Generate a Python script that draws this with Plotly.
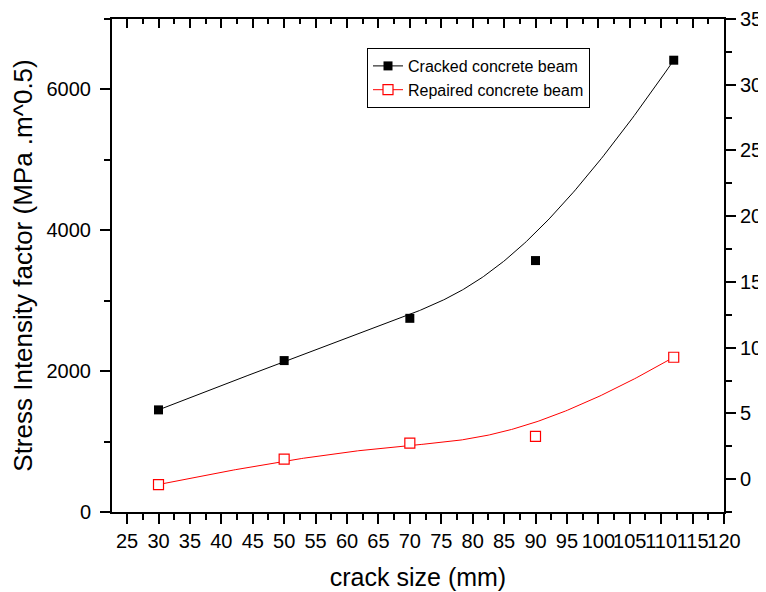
import numpy as np
import plotly.graph_objects as go

crack_size = [30, 50, 70, 90, 112]
cracked = [1450, 2150, 2750, 3570, 6415]
repaired = [390, 751, 978, 1073, 2197]
x_ticks = list(range(25, 121, 5))
y_ticks = [0, 2000, 4000, 6000]
y2_ticks = list(range(0, 36, 5))


def bspline(px, py, n=300, k=3):
    """Clamped uniform B-spline using the data points as control points."""
    P = np.column_stack([px, py]).astype(float)
    m = len(P)
    inner = np.linspace(0, 1, m - k + 1)
    t = np.concatenate([[0] * k, inner, [1] * k])
    us = np.linspace(0, 1, n)
    out = []
    for u in us:
        N = np.zeros(len(t) - 1)
        for i in range(len(t) - 1):
            if (t[i] <= u < t[i + 1]) or (u == 1 and t[i] < u <= t[i + 1]):
                N[i] = 1.0
        for d in range(1, k + 1):
            Nn = np.zeros(len(t) - 1 - d)
            for i in range(len(t) - 1 - d):
                a = 0.0
                if t[i + d] != t[i]:
                    a = (u - t[i]) / (t[i + d] - t[i]) * N[i]
                b = 0.0
                if t[i + d + 1] != t[i + 1]:
                    b = (t[i + d + 1] - u) / (t[i + d + 1] - t[i + 1]) * N[i + 1]
                Nn[i] = a + b
            N = Nn
        out.append(N[:m] @ P)
    out = np.array(out)
    return out[:, 0], out[:, 1]


cx, cy = bspline(crack_size, cracked)
rx, ry = bspline(crack_size, repaired)

FONT = "Liberation Sans, Arial, sans-serif"
BLACK_MARK = dict(symbol="square", size=9, color="#000000")
RED_MARK = dict(symbol="square", size=10, color="#ffffff",
                line=dict(color="#ff0000", width=1.2))

fig = go.Figure()
# smooth curves
fig.add_trace(go.Scatter(x=cx, y=cy, mode="lines", line=dict(color="#000000", width=1),
                         showlegend=False, hoverinfo="skip"))
fig.add_trace(go.Scatter(x=rx, y=ry, mode="lines", line=dict(color="#ff0000", width=1),
                         showlegend=False, hoverinfo="skip"))
# data markers
fig.add_trace(go.Scatter(x=crack_size, y=cracked, mode="markers", marker=BLACK_MARK,
                         showlegend=False))
fig.add_trace(go.Scatter(x=crack_size, y=repaired, mode="markers", marker=RED_MARK,
                         showlegend=False))
# legend entries
fig.add_trace(go.Scatter(x=[None], y=[None], mode="lines+markers",
                         name="Cracked concrete beam",
                         line=dict(color="#000000", width=1), marker=BLACK_MARK))
fig.add_trace(go.Scatter(x=[None], y=[None], mode="lines+markers",
                         name="Repaired concrete beam",
                         line=dict(color="#ff0000", width=1), marker=RED_MARK))

# empty trace to create secondary axes (top x, right y)
fig.add_trace(go.Scatter(x=[], y=[], xaxis="x2", yaxis="y2", showlegend=False,
                         hoverinfo="skip"))

axis_common = dict(showline=True, linecolor="#000000", linewidth=2, automargin=False,
                   tickcolor="#000000", tickwidth=2, showgrid=False, zeroline=False,
                   tickfont=dict(family=FONT, size=20, color="#000000"))

# the page body has an 8px margin, so margins are offset by 8px
fig.update_layout(
    width=766, height=592,
    margin=dict(l=104, r=50, t=11, b=88),
    paper_bgcolor="#ffffff", plot_bgcolor="#ffffff",
    font=dict(family=FONT, color="#000000"),
    xaxis=dict(range=[22.6, 120], tickmode="array", tickvals=x_ticks,
               ticktext=[str(v) for v in x_ticks], tickangle=0,
               ticks="outside", ticklen=10,
               minor=dict(ticks="outside", ticklen=6, tickwidth=2, tickcolor="#000000",
                          tick0=2.5, dtick=2.5),
               title=dict(text="crack size (mm)", font=dict(family=FONT, size=25),
                          standoff=17),
               **axis_common),
    yaxis=dict(range=[0, 7000], tickmode="array", tickvals=y_ticks,
               ticks="outside", ticklen=10, ticklabelstandoff=5,
               minor=dict(ticks="outside", ticklen=6, tickwidth=2, tickcolor="#000000",
                          tick0=0, dtick=1000),
               title=dict(text="Stress Intensity factor (MPa .m^0.5)",
                          font=dict(family=FONT, size=26), standoff=8),
               **axis_common),
    xaxis2=dict(range=[22.6, 120], overlaying="x", side="top", anchor="y2",
                tickmode="array", tickvals=x_ticks, showticklabels=False,
                ticks="inside", ticklen=9,
                minor=dict(ticks="inside", ticklen=5, tickwidth=2, tickcolor="#000000",
                           tick0=2.5, dtick=2.5),
                **axis_common),
    yaxis2=dict(range=[-2.5, 35], overlaying="y", side="right", anchor="x2",
                tickmode="array", tickvals=y2_ticks,
                ticks="outside", ticklen=10,
                minor=dict(ticks="outside", ticklen=6, tickwidth=2, tickcolor="#000000",
                           tick0=0, dtick=2.5),
                **axis_common),
    legend=dict(x=(367 - 112) / 612, y=(512 - 48) / 493, xanchor="left", yanchor="top",
                bordercolor="#000000", borderwidth=1, bgcolor="#ffffff",
                font=dict(family=FONT, size=16, color="#000000"),
                tracegroupgap=0, itemwidth=30),
    showlegend=True,
)

fig.write_html("out.html")
